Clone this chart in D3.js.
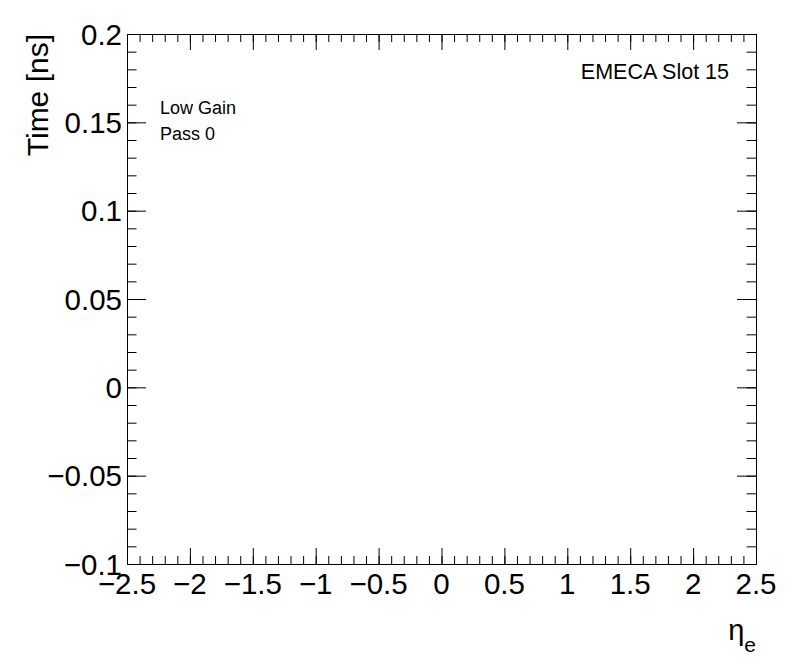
<!DOCTYPE html>
<html>
<head>
<meta charset="utf-8">
<script src="https://cdn.jsdelivr.net/npm/d3@7"></script>
<style>
  body { margin: 0; background: #fff; }
  text { font-family: "Liberation Sans", Arial, Helvetica, sans-serif; fill: #000; }
</style>
</head>
<body>
<script>
var xDomain = [-2.5, 2.5];
var yDomain = [-0.1, 0.2];
var xTicks = [-2.5, -2, -1.5, -1, -0.5, 0, 0.5, 1, 1.5, 2, 2.5];
var yTicks = [-0.1, -0.05, 0, 0.05, 0.1, 0.15, 0.2];
var xTitle = "η";
var xTitleSub = "e";
var yTitle = "Time [ns]";
var labels = ["Low Gain", "Pass 0"];
var slotLabel = "EMECA Slot 15";
var points = []; // histogram is empty

var W = 796, H = 672;
var fLeft = 127, fRight = 756, fTop = 34, fBottom = 564;

var svg = d3.select("body").append("svg").attr("width", W).attr("height", H);

var x = d3.scaleLinear().domain(xDomain).range([fLeft, fRight]);
var y = d3.scaleLinear().domain(yDomain).range([fBottom, fTop]);

// minor ticks every fifth of a major step
var xMinor = d3.range(0, 51).map(function(i) { return xDomain[0] + i * 0.1; });
var yMinor = d3.range(0, 31).map(function(i) { return yDomain[0] + i * 0.01; });

function fmt(d) { return String(d).replace("-", "\u2212"); }

function tickAxis(axisFn, scale, vals, size, transform) {
  var g = svg.append("g").attr("transform", transform)
    .call(axisFn(scale).tickValues(vals).tickSize(size).tickFormat(""));
  g.select(".domain").remove();
  g.selectAll("line").attr("stroke", "#000").attr("stroke-width", 1);
  return g;
}

// bottom / top
tickAxis(d3.axisTop, x, xTicks, 16, "translate(0," + fBottom + ")");
tickAxis(d3.axisTop, x, xMinor, 8, "translate(0," + fBottom + ")");
tickAxis(d3.axisBottom, x, xTicks, 16, "translate(0," + fTop + ")");
tickAxis(d3.axisBottom, x, xMinor, 8, "translate(0," + fTop + ")");
// left / right
tickAxis(d3.axisRight, y, yTicks, 19, "translate(" + fLeft + ",0)");
tickAxis(d3.axisRight, y, yMinor, 9.5, "translate(" + fLeft + ",0)");
tickAxis(d3.axisLeft, y, yTicks, 19, "translate(" + fRight + ",0)");
tickAxis(d3.axisLeft, y, yMinor, 9.5, "translate(" + fRight + ",0)");

svg.append("rect")
  .attr("x", fLeft + 0.5).attr("y", fTop + 0.5)
  .attr("width", fRight - fLeft).attr("height", fBottom - fTop)
  .attr("fill", "none").attr("stroke", "#000").attr("stroke-width", 1);

svg.selectAll("circle.pt").data(points).enter().append("circle")
  .attr("class", "pt")
  .attr("cx", function(d) { return x(d[0]); })
  .attr("cy", function(d) { return y(d[1]); })
  .attr("r", 2);

// tick labels
svg.selectAll("text.xl").data(xTicks).enter().append("text")
  .attr("class", "xl")
  .attr("x", function(d) { return x(d); })
  .attr("y", 594)
  .attr("text-anchor", "middle")
  .attr("font-size", 29.5)
  .text(fmt);

svg.selectAll("text.yl").data(yTicks).enter().append("text")
  .attr("class", "yl")
  .attr("x", 122)
  .attr("y", function(d) { return y(d) + 10.5; })
  .attr("text-anchor", "end")
  .attr("font-size", 29.5)
  .text(fmt);

// axis titles
var xt = svg.append("text")
  .attr("x", fRight).attr("y", 640)
  .attr("text-anchor", "end")
  .attr("font-size", 29);
xt.append("tspan").text(xTitle);
xt.append("tspan").attr("font-size", 21).attr("dy", 12).text(xTitleSub);

svg.append("text")
  .attr("transform", "translate(48," + fTop + ") rotate(-90)")
  .attr("text-anchor", "end")
  .attr("font-size", 30)
  .text(yTitle);

svg.selectAll("text.lab").data(labels).enter().append("text")
  .attr("class", "lab")
  .attr("x", 160)
  .attr("y", function(d, i) { return 114 + i * 26; })
  .attr("font-size", 18)
  .text(function(d) { return d; });

svg.append("text")
  .attr("x", 729).attr("y", 79)
  .attr("text-anchor", "end")
  .attr("font-size", 21.5)
  .text(slotLabel);
</script>
</body>
</html>
